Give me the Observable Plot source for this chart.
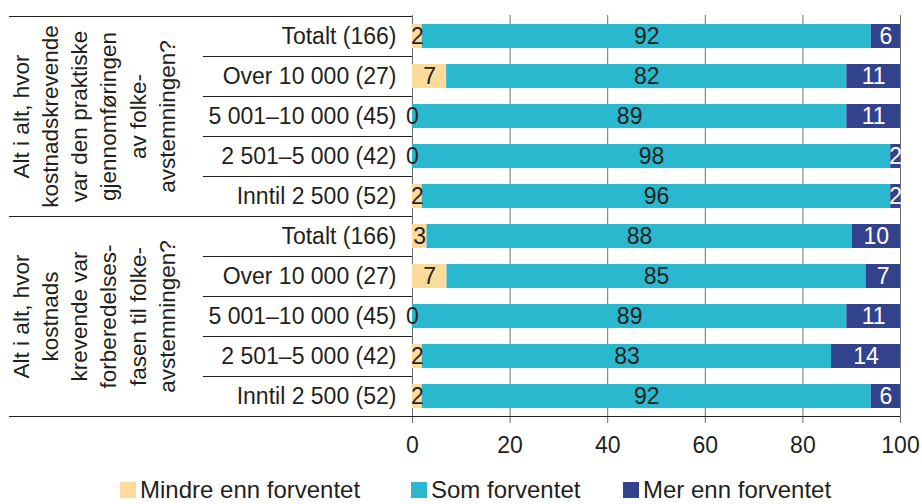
<!DOCTYPE html>
<html>
<head>
<meta charset="utf-8">
<script src="https://cdn.jsdelivr.net/npm/d3@7"></script>
<script src="https://cdn.jsdelivr.net/npm/@observablehq/plot@0.6"></script>
<style>
  html, body { margin: 0; padding: 0; background: #fff; }
  #chart { width: 922px; height: 504px; position: relative; overflow: hidden; font-family: "Liberation Sans", Arial, sans-serif; color: #231f20; }
  #chart svg { display: block; overflow: visible; }
  .legend { position: relative; height: 29px; margin-top: 1px; font-size: 24px; }
  .legend .item { position: absolute; top: 0; display: flex; align-items: center; height: 29px; white-space: nowrap; }
  .legend .sw { width: 16px; height: 16px; margin-right: 4px; }
</style>
</head>
<body>
<div id="chart"></div>
<script>
// ---- data ----
const categories = ["Totalt (166)", "Over 10 000 (27)", "5 001–10 000 (45)", "2 501–5 000 (42)", "Inntil 2 500 (52)"];
const groupKeys = ["praktisk", "forberedelse"];
const groupLabels = [
  "Alt i alt, hvor\nkostnadskrevende\nvar den praktiske\ngjennomføringen\nav folke-\navstemningen?",
  "Alt i alt, hvor\nkostnads\nkrevende var\nforberedelses-\nfasen til folke-\navstemningen?"
];
const seriesNames = ["Mindre enn forventet", "Som forventet", "Mer enn forventet"];
const seriesColors = ["#fddb9b", "#2ab8cf", "#33428c"];

const mindrePraktisk = [2, 7, 0, 0, 2];
const somPraktisk    = [92, 82, 89, 98, 96];
const merPraktisk    = [6, 11, 11, 2, 2];

const mindreForb = [3, 7, 0, 2, 2];
const somForb    = [88, 85, 89, 83, 92];
const merForb    = [10, 7, 11, 14, 6];

const xTicks = [0, 20, 40, 60, 80, 100];

// ---- build table ----
const seriesByGroup = [
  [mindrePraktisk, somPraktisk, merPraktisk],
  [mindreForb, somForb, merForb]
];
const keys = [];
const rows = [];
groupKeys.forEach((g, gi) => {
  categories.forEach((c, ci) => {
    const key = g + "|" + c;
    keys.push(key);
    seriesNames.forEach((s, si) => {
      rows.push({key, group: g, category: c, series: s, value: seriesByGroup[gi][si][ci]});
    });
  });
});
const groupData = groupKeys.map((g, gi) => ({group: g, mid: g + "|" + categories[2], label: groupLabels[gi]}));

const dark = "#231f20";
const grid = "#6d6e71";
const stackOpts = {x: "value", y: "key", z: "series", offset: "normalize"};

const chart = Plot.plot({
  width: 922,
  height: 474,
  marginLeft: 412,
  marginRight: 22,
  marginTop: 15,
  marginBottom: 57,
  style: {fontFamily: "'Liberation Sans', Arial, sans-serif", fontSize: "23px", color: dark, background: "#fff", overflow: "visible"},
  x: {domain: [0, 100], percent: true},
  y: {domain: keys, padding: 0},
  color: {domain: seriesNames, range: seriesColors},
  marks: [
    Plot.gridX({ticks: xTicks, stroke: grid, strokeOpacity: 1}),
    Plot.barX(rows, Plot.stackX({...stackOpts, fill: "series", insetTop: 8, insetBottom: 8})),
    Plot.text(rows, Plot.filter(d => d.series !== seriesNames[2],
      Plot.stackX({...stackOpts, text: d => String(d.value), fill: dark, fontSize: 23}))),
    Plot.text(rows, Plot.filter(d => d.series === seriesNames[2],
      Plot.stackX({...stackOpts, text: d => String(d.value), fill: "white", fontSize: 23}))),
    Plot.axisX({ticks: xTicks, tickSize: 6, tickPadding: 13, stroke: grid, fill: dark, label: null, fontSize: 23}),
    Plot.axisY({tickSize: 0, tickPadding: 16, tickFormat: k => k.split("|")[1], label: null, fill: dark, fontSize: 23}),
    Plot.text(groupData, {y: "mid", frameAnchor: "left", textAnchor: "middle", lineAnchor: "middle", dx: -320, rotate: -90, text: "label", lineHeight: 1.3, fontSize: 22.5, fill: dark})
  ]
});

// separator lines drawn from the plot's own scales
const ys = chart.scale("y");
const xs = chart.scale("x");
const x0 = xs.apply(0);
const x100 = xs.apply(100);
const bw = ys.bandwidth;
const svg = d3.select(chart);
const g = svg.append("g").attr("stroke", dark).attr("stroke-width", 1);
const crisp = v => Math.round(v) + 0.5;
groupKeys.forEach((gk, gi) => {
  const gKeys = keys.filter(k => k.startsWith(gk + "|"));
  const top = ys.apply(gKeys[0]);
  const bottom = ys.apply(gKeys[gKeys.length - 1]) + bw;
  g.append("line").attr("x1", 9).attr("x2", x0).attr("y1", crisp(top)).attr("y2", crisp(top));
  if (gi === groupKeys.length - 1) {
    g.append("line").attr("x1", 9).attr("x2", x100).attr("y1", crisp(bottom)).attr("y2", crisp(bottom));
  }
  gKeys.slice(1).forEach(k => {
    const y = ys.apply(k);
    g.append("line").attr("x1", 203).attr("x2", x0).attr("y1", crisp(y)).attr("y2", crisp(y));
  });
});

const container = document.getElementById("chart");
container.appendChild(chart);

// legend
const legend = document.createElement("div");
legend.className = "legend";
const lefts = [120, 411, 623];
seriesNames.forEach((s, i) => {
  const item = document.createElement("div");
  item.className = "item";
  item.style.left = lefts[i] + "px";
  const sw = document.createElement("span");
  sw.className = "sw";
  sw.style.background = seriesColors[i];
  const t = document.createElement("span");
  t.textContent = s;
  item.appendChild(sw);
  item.appendChild(t);
  legend.appendChild(item);
});
container.appendChild(legend);
</script>
</body>
</html>
